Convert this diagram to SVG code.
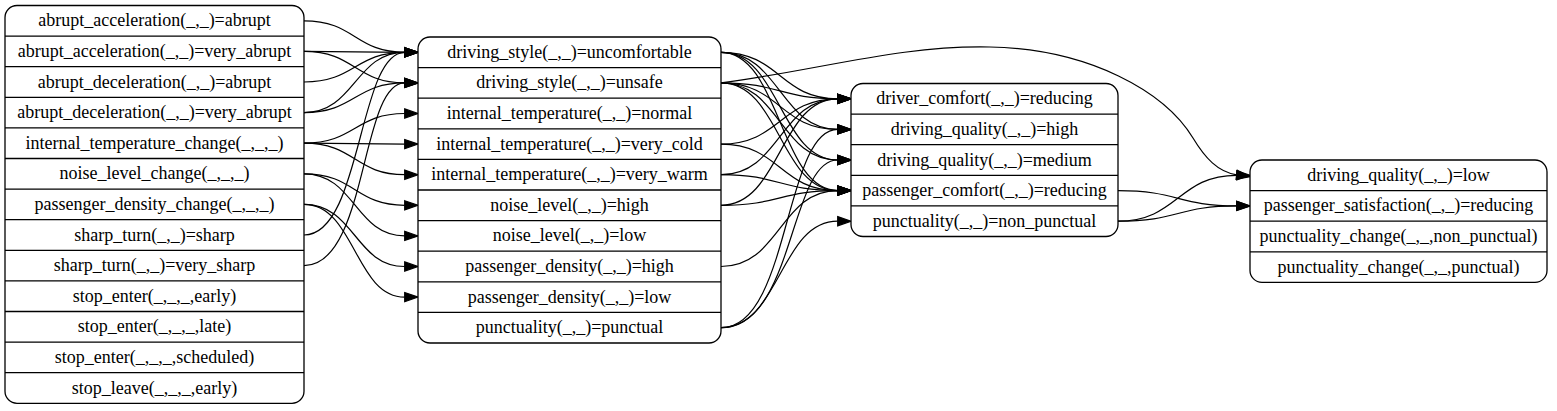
<svg xmlns="http://www.w3.org/2000/svg" width="1557" height="411" viewBox="0 0 1557 411" font-family="'Liberation Serif', 'Times New Roman', serif">
<style>
.box{fill:#fff;stroke:#000;stroke-width:1.3}
.sep{stroke:#000;stroke-width:1.3}
.t{font-family:'Liberation Serif','Times New Roman',serif;font-size:18px;text-anchor:middle;fill:#000}
#edges path{fill:none;stroke:#000;stroke-width:1.2;marker-end:url(#ah)}
</style>
<defs>
<marker id="ah" markerUnits="userSpaceOnUse" markerWidth="16" markerHeight="12" refX="0" refY="0" viewBox="0 -6 16 12" orient="auto" overflow="visible">
<path d="M0,-4.6 L13.3,0 L0,4.6 z" fill="#000" stroke="#000" stroke-width="1.2"/>
</marker>
</defs>
<rect width="1557" height="411" fill="#fff"/>
<g id="edges">
<path d="M304,20.8 C355,20.8 355,52.3 404.7,52.3"/>
<path d="M304,51.4 C355,51.4 355,52.3 404.7,52.3"/>
<path d="M304,51.4 C355,51.4 355,82.9 404.7,82.9"/>
<path d="M304,82 C355,82 355,52.3 404.7,52.3"/>
<path d="M304,112.6 C355,112.6 355,52.3 404.7,52.3"/>
<path d="M304,112.6 C355,112.6 355,82.9 404.7,82.9"/>
<path d="M304,143.2 C355,143.2 355,113.5 404.7,113.5"/>
<path d="M304,143.2 C355,143.2 355,144.1 404.7,144.1"/>
<path d="M304,143.2 C355,143.2 355,174.7 404.7,174.7"/>
<path d="M304,173.8 C355,173.8 355,205.3 404.7,205.3"/>
<path d="M304,173.8 C355,173.8 355,235.9 404.7,235.9"/>
<path d="M304,204.4 C355,204.4 355,266.5 404.7,266.5"/>
<path d="M304,204.4 C355,204.4 355,297.1 404.7,297.1"/>
<path d="M304,235 C362,235 358,52.3 404.7,52.3"/>
<path d="M304,265.6 C368,265.6 360,82.9 404.7,82.9"/>
<path d="M721,52.3 C780,52.3 780,98.8 837.7,98.8"/>
<path d="M721,52.3 C780,52.3 780,129.4 837.7,129.4"/>
<path d="M721,52.3 C780,52.3 780,160 837.7,160"/>
<path d="M721,52.3 C780,52.3 780,190.6 837.7,190.6"/>
<path d="M721,82.9 C780,82.9 780,98.8 837.7,98.8"/>
<path d="M721,82.9 C780,82.9 780,129.4 837.7,129.4"/>
<path d="M721,82.9 C780,82.9 780,160 837.7,160"/>
<path d="M721,82.9 C780,82.9 780,190.6 837.7,190.6"/>
<path d="M721,144.1 C780,144.1 780,98.8 837.7,98.8"/>
<path d="M721,144.1 C780,144.1 780,190.6 837.7,190.6"/>
<path d="M721,174.7 C780,174.7 780,98.8 837.7,98.8"/>
<path d="M721,174.7 C780,174.7 780,190.6 837.7,190.6"/>
<path d="M721,205.3 C780,205.3 780,98.8 837.7,98.8"/>
<path d="M721,205.3 C780,205.3 780,190.6 837.7,190.6"/>
<path d="M721,266.5 C780,266.5 780,190.6 837.7,190.6"/>
<path d="M721,327.7 C790,327.7 784,129.4 837.7,129.4"/>
<path d="M721,327.7 C795,327.7 789,160 837.7,160"/>
<path d="M721,327.7 C780,327.7 780,221.2 837.7,221.2"/>
<path d="M721,82.9 C820,70 900,45 990,47 C1090,49 1165,92 1193,138 C1205,158 1218,172 1236.7,174.8"/>
<path d="M1118,190.6 C1178,190.6 1178,205.9 1236.7,205.9"/>
<path d="M1118,221.2 C1178,221.2 1178,175.3 1236.7,175.3"/>
<path d="M1118,221.2 C1178,221.2 1178,205.9 1236.7,205.9"/>
</g>
<g id="n1">
<rect class="box" x="5" y="5.5" width="299" height="397.8" rx="12"/>
<path class="sep" d="M5,36.1H304M5,66.7H304M5,97.3H304M5,127.9H304M5,158.5H304M5,189.1H304M5,219.7H304M5,250.3H304M5,280.9H304M5,311.5H304M5,342.1H304M5,372.7H304"/>
<text class="t" x="154.5" y="26.3">abrupt_acceleration(_,_)=abrupt</text>
<text class="t" x="154.5" y="56.9">abrupt_acceleration(_,_)=very_abrupt</text>
<text class="t" x="154.5" y="87.5">abrupt_deceleration(_,_)=abrupt</text>
<text class="t" x="154.5" y="118.1">abrupt_deceleration(_,_)=very_abrupt</text>
<text class="t" x="154.5" y="148.7">internal_temperature_change(_,_,_)</text>
<text class="t" x="154.5" y="179.3">noise_level_change(_,_,_)</text>
<text class="t" x="154.5" y="209.9">passenger_density_change(_,_,_)</text>
<text class="t" x="154.5" y="240.5">sharp_turn(_,_)=sharp</text>
<text class="t" x="154.5" y="271.1">sharp_turn(_,_)=very_sharp</text>
<text class="t" x="154.5" y="301.7">stop_enter(_,_,_,early)</text>
<text class="t" x="154.5" y="332.3">stop_enter(_,_,_,late)</text>
<text class="t" x="154.5" y="362.9">stop_enter(_,_,_,scheduled)</text>
<text class="t" x="154.5" y="393.5">stop_leave(_,_,_,early)</text>
</g>
<g id="n2">
<rect class="box" x="418" y="37" width="303" height="306" rx="12"/>
<path class="sep" d="M418,67.6H721M418,98.2H721M418,128.8H721M418,159.4H721M418,190H721M418,220.6H721M418,251.2H721M418,281.8H721M418,312.4H721"/>
<text class="t" x="569.5" y="57.8">driving_style(_,_)=uncomfortable</text>
<text class="t" x="569.5" y="88.4">driving_style(_,_)=unsafe</text>
<text class="t" x="569.5" y="119">internal_temperature(_,_)=normal</text>
<text class="t" x="569.5" y="149.6">internal_temperature(_,_)=very_cold</text>
<text class="t" x="569.5" y="180.2">internal_temperature(_,_)=very_warm</text>
<text class="t" x="569.5" y="210.8">noise_level(_,_)=high</text>
<text class="t" x="569.5" y="241.4">noise_level(_,_)=low</text>
<text class="t" x="569.5" y="272">passenger_density(_,_)=high</text>
<text class="t" x="569.5" y="302.6">passenger_density(_,_)=low</text>
<text class="t" x="569.5" y="333.2">punctuality(_,_)=punctual</text>
</g>
<g id="n3">
<rect class="box" x="851" y="83.5" width="267" height="153" rx="12"/>
<path class="sep" d="M851,114.1H1118M851,144.7H1118M851,175.3H1118M851,205.9H1118"/>
<text class="t" x="984.5" y="104.3">driver_comfort(_,_)=reducing</text>
<text class="t" x="984.5" y="134.9">driving_quality(_,_)=high</text>
<text class="t" x="984.5" y="165.5">driving_quality(_,_)=medium</text>
<text class="t" x="984.5" y="196.1">passenger_comfort(_,_)=reducing</text>
<text class="t" x="984.5" y="226.7">punctuality(_,_)=non_punctual</text>
</g>
<g id="n4">
<rect class="box" x="1250" y="160" width="297" height="122.4" rx="12"/>
<path class="sep" d="M1250,190.6H1547M1250,221.2H1547M1250,251.8H1547"/>
<text class="t" x="1398.5" y="180.8">driving_quality(_,_)=low</text>
<text class="t" x="1398.5" y="211.4">passenger_satisfaction(_,_)=reducing</text>
<text class="t" x="1398.5" y="242">punctuality_change(_,_,non_punctual)</text>
<text class="t" x="1398.5" y="272.6">punctuality_change(_,_,punctual)</text>
</g>
</svg>
